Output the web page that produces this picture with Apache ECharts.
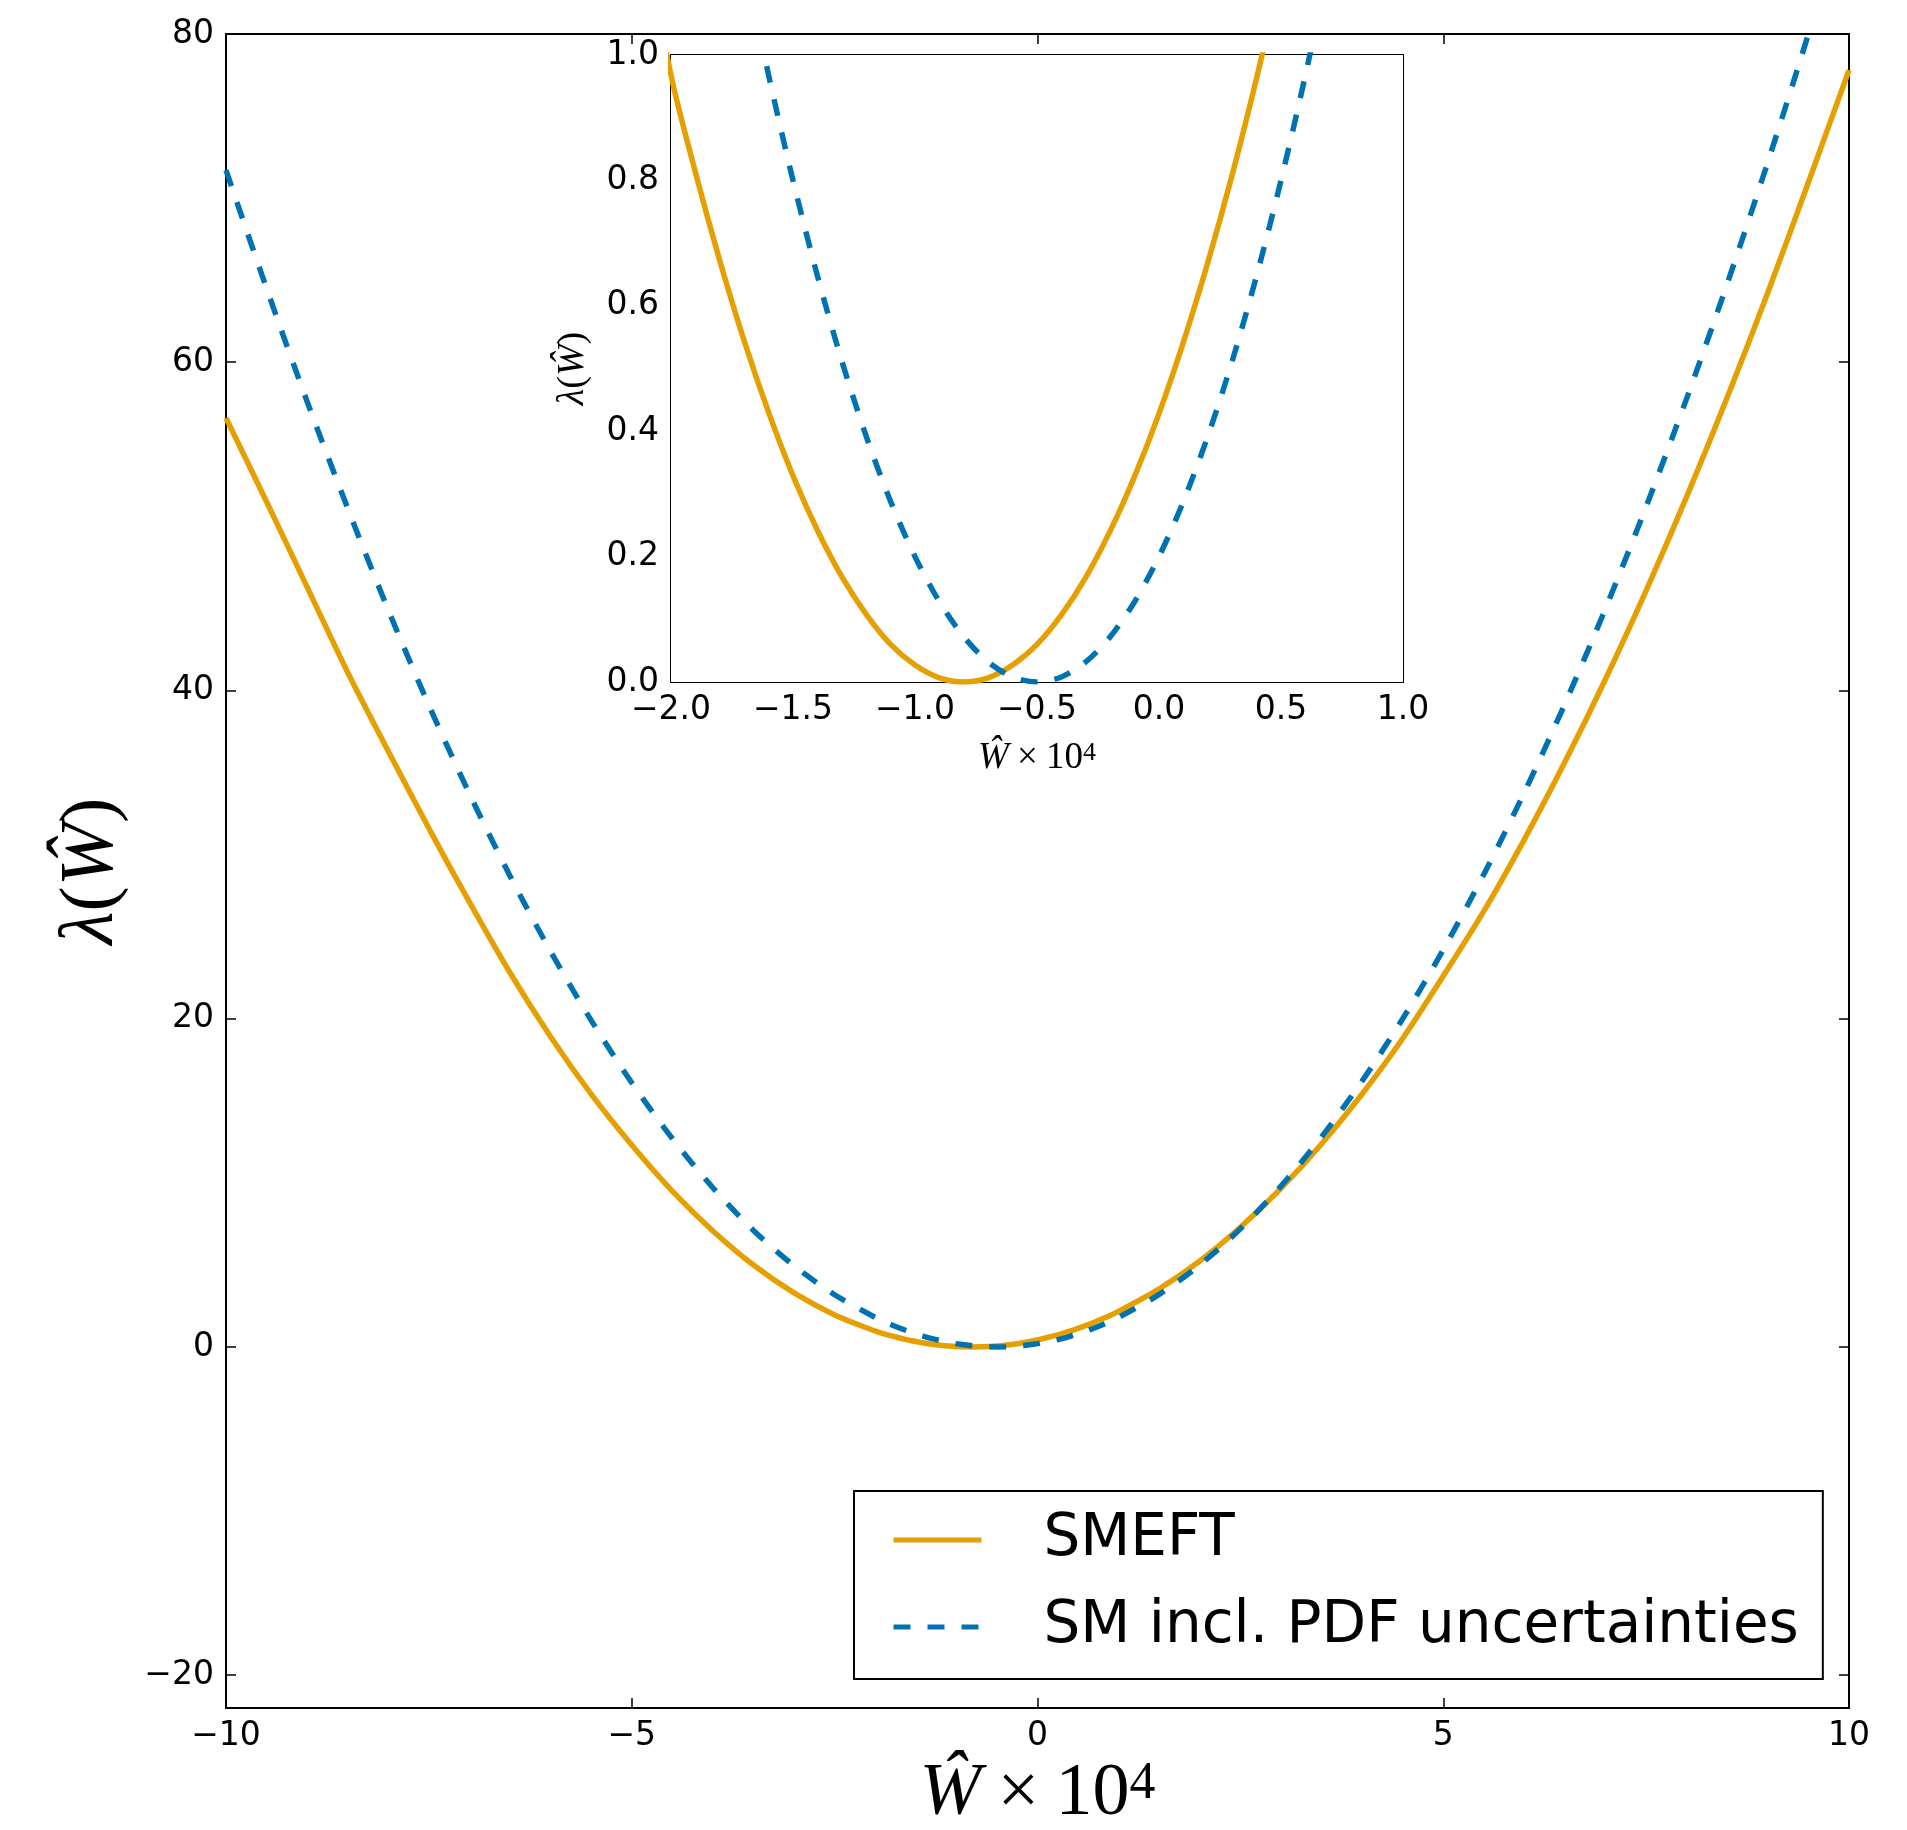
<!DOCTYPE html>
<html>
<head>
<meta charset="utf-8">
<script src="https://cdn.jsdelivr.net/npm/echarts@6.0.0/dist/echarts.min.js"></script>
<style>
html, body { margin: 0; padding: 0; background: #fff; }
#chart { width: 1907px; height: 1830px; }
</style>
</head>
<body>
<div id="chart"></div>
<script>
// W-hat x 10^4 sample positions (coarse in the wings, fine around the minimum)
var xs = [-10, -9.5, -9, -8.5, -8, -7.5, -7, -6.5, -6, -5.5, -5, -4.5, -4, -3.5, -3, -2.5,
  -2.0, -1.9, -1.8, -1.7, -1.6, -1.5, -1.4, -1.3, -1.2, -1.1, -1.0, -0.9, -0.8, -0.7, -0.6,
  -0.5, -0.4, -0.3, -0.2, -0.1, 0.0, 0.1, 0.2, 0.3, 0.4, 0.5, 0.6, 0.7, 0.8, 0.9, 1.0,
  1.5, 2, 2.5, 3, 3.5, 4, 4.5, 5, 5.5, 6, 6.5, 7, 7.5, 8, 8.5, 9, 9.5, 10];

var smeft = [56.6, 51.5, 46.3, 41.1, 36.3, 31.6, 27.1, 22.8, 18.9, 15.4, 12.3, 9.49, 7.07, 4.99, 3.29, 1.95,
  0.968, 0.813, 0.672, 0.544, 0.430, 0.329, 0.242, 0.168, 0.108, 0.060, 0.027, 0.0067, 0.0, 0.0067, 0.027,
  0.060, 0.107, 0.167, 0.241, 0.328, 0.428, 0.542, 0.669, 0.809, 0.963, 1.131, 1.311, 1.505, 1.713, 1.933, 2.168,
  3.54, 5.24, 7.29, 9.66, 12.37, 15.41, 18.79, 22.6, 26.55, 30.93, 35.65, 40.70, 46.09, 51.81, 57.86, 64.25, 70.97, 77.8];

var smPdf = [71.7, 64.5, 57.6, 51.1, 44.9, 39.1, 33.7, 28.7, 24.1, 19.9, 16.1, 12.7, 9.7, 7.1, 4.95, 3.18,
  1.8, 1.568, 1.352, 1.152, 0.968, 0.8, 0.648, 0.512, 0.392, 0.288, 0.2, 0.128, 0.072, 0.032, 0.008,
  0.0, 0.008, 0.032, 0.072, 0.128, 0.2, 0.288, 0.392, 0.512, 0.648, 0.8, 0.968, 1.152, 1.352, 1.568, 1.8,
  3.2, 5.0, 7.2, 9.8, 12.8, 16.2, 20.0, 24.2, 28.8, 33.8, 39.2, 45.0, 51.2, 57.8, 64.8, 72.2, 80.0, 88.2];

var mainYTicks = [-20, 0, 20, 40, 60, 80];
var names = ['SMEFT', 'SM incl. PDF uncertainties'];
var colors = ['#E69F00', '#0072B2'];

var sans = 'DejaVu Sans';
var serif = 'Liberation Serif';

function pairs(ys) {
  return xs.map(function (x, i) { return [x, ys[i]]; });
}

function fmt(d) {
  return function (v) {
    var s = Math.abs(v).toFixed(d);
    return v < -1e-9 ? '\u2212' + s : s;
  };
}

function nameStyle(size) {
  return {
    color: '#000',
    fontFamily: serif,
    fontSize: size,
    rich: {
      i: { fontFamily: serif, fontStyle: 'italic', fontSize: size, color: '#000' },
      n: { fontFamily: serif, fontSize: size, color: '#000' },
      x: { fontFamily: serif, fontSize: size, color: '#000', padding: [0, size * 0.22, 0, size * 0.22] },
      s: { fontFamily: serif, fontSize: size * 0.7, color: '#000', verticalAlign: 'top' }
    }
  };
}

var xName = '{i|Ŵ}{x|×}{n|10}{s|4}';
var yName = '{i|λ}{n|(}{i|Ŵ}{n|)}';

function axisBase(grid, pos, showLabel, digits) {
  return {
    type: 'value',
    gridIndex: grid,
    position: pos,
    axisLine: { show: true, onZero: false, lineStyle: { color: '#000', width: 2 } },
    axisTick: { show: true, inside: true, length: 10, lineStyle: { color: '#000', width: 1.5 } },
    axisLabel: { show: showLabel, color: '#000', fontFamily: sans, fontSize: 33, margin: 12, formatter: fmt(digits) },
    splitLine: { show: false }
  };
}

var dom = document.getElementById('chart');
var myChart = echarts.init(dom);

var xMain = axisBase(0, 'bottom', true, 0);
xMain.min = -10; xMain.max = 10; xMain.interval = 5;
xMain.name = xName; xMain.nameLocation = 'middle'; xMain.nameGap = 50;
xMain.nameTextStyle = nameStyle(74);

var xMainTop = axisBase(0, 'top', false, 0);
xMainTop.min = -10; xMainTop.max = 10; xMainTop.interval = 5;

var xIn = axisBase(1, 'bottom', true, 1);
xIn.min = -2; xIn.max = 1; xIn.interval = 0.5;
xIn.name = xName; xIn.nameLocation = 'middle'; xIn.nameGap = 58;
xIn.nameTextStyle = nameStyle(37);

var xInTop = axisBase(1, 'top', false, 1);
xInTop.min = -2; xInTop.max = 1; xInTop.interval = 0.5;

var yMain = axisBase(0, 'left', true, 0);
yMain.min = -22; yMain.max = 80;
yMain.axisLabel.customValues = mainYTicks;
yMain.axisTick.customValues = mainYTicks;
yMain.name = yName; yMain.nameLocation = 'middle'; yMain.nameGap = 96;
yMain.nameTextStyle = nameStyle(76);

var yMainRight = axisBase(0, 'right', false, 0);
yMainRight.min = -22; yMainRight.max = 80;
yMainRight.axisLabel.customValues = mainYTicks;
yMainRight.axisTick.customValues = mainYTicks;

var yIn = axisBase(1, 'left', true, 1);
yIn.min = 0; yIn.max = 1; yIn.interval = 0.2;
yIn.name = yName; yIn.nameLocation = 'middle'; yIn.nameGap = 79;
yIn.nameTextStyle = nameStyle(38);

var yInRight = axisBase(1, 'right', false, 1);
yInRight.min = 0; yInRight.max = 1; yInRight.interval = 0.2;

function lineSeries(k, ys, xi, yi) {
  return {
    name: names[k],
    type: 'line',
    xAxisIndex: xi,
    yAxisIndex: yi,
    data: pairs(ys),
    symbol: 'none',
    smooth: 0.3,
    clip: true,
    z: 5,
    itemStyle: { color: colors[k] },
    lineStyle: { color: colors[k], width: 5.5, type: k === 1 ? [17, 17] : 'solid', cap: 'butt' }
  };
}

var option = {
  animation: false,
  backgroundColor: '#fff',
  grid: [
    { left: 226, top: 34, right: 58, bottom: 122, outerBoundsMode: 'none' },
    { left: 671, top: 55, width: 732, height: 627, show: true, backgroundColor: '#fff', borderWidth: 0, outerBoundsMode: 'none', z: 3 }
  ],
  xAxis: [xMain, xMainTop, xIn, xInTop],
  yAxis: [yMain, yMainRight, yIn, yInRight],
  legend: {
    orient: 'vertical',
    left: 854,
    top: 1491,
    padding: [17, 24, 20, 37],
    itemWidth: 88,
    itemHeight: 20,
    itemGap: 23,
    borderColor: '#000',
    borderWidth: 2,
    borderRadius: 0,
    backgroundColor: '#fff',
    selectedMode: false,
    itemStyle: { opacity: 0 },
    lineStyle: { width: 5 },
    textStyle: { color: '#000', fontFamily: sans, fontSize: 58, lineHeight: 64, padding: [0, 0, 0, 57] },
    data: names
  },
  series: [
    lineSeries(0, smeft, 0, 0),
    lineSeries(1, smPdf, 0, 0),
    lineSeries(0, smeft, 2, 2),
    lineSeries(1, smPdf, 2, 2)
  ]
};

myChart.setOption(option, true);
</script>
</body>
</html>
